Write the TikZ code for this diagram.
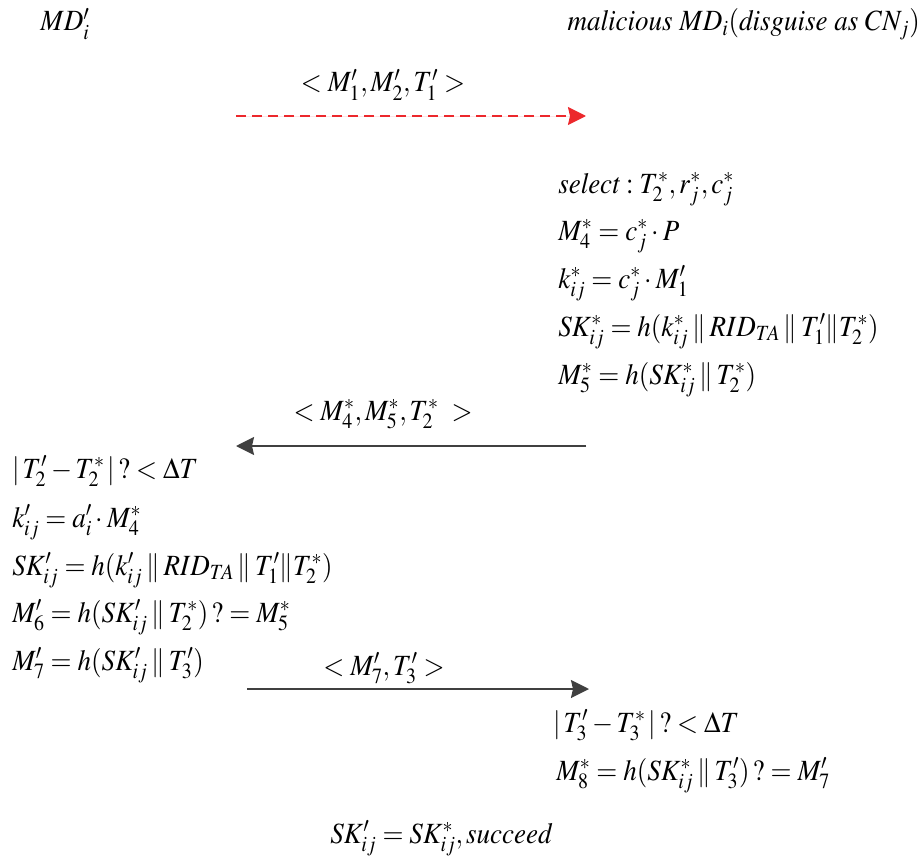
\documentclass[tikz,border=0pt]{standalone}
\usepackage{mathptmx}
\usepackage{fontspec}
\setmainfont{Liberation Serif}
\usepackage{tikz}
\usetikzlibrary{arrows.meta,positioning}
\definecolor{attackC}{RGB}{236,40,44}
\definecolor{msgC}{RGB}{64,64,64}
\newcommand{\eqn}[1]{\scalebox{0.92}[1]{$#1$}}
\newcommand{\cat}{\mathbin{\|}}

\begin{document}
\begin{tikzpicture}[
  x=0.75pt,y=-0.75pt,
  txt/.style={anchor=base west,inner sep=0pt,font=\fontsize{22}{26}\selectfont},
  lbl/.style={anchor=base,inner sep=0pt,font=\fontsize{22}{26}\selectfont},
  msg/.style={-{Stealth[length=13.5pt,width=13.5pt,inset=1.5pt]},line width=1.5pt,draw=msgC,fill=msgC},
  fake/.style={msg,draw=attackC,fill=attackC,dash pattern=on 7.5pt off 4.5pt}
]
  \useasboundingbox (0,0) rectangle (924,856);

  % Participants
  \node[txt] (md) at (40,31) {\eqn{MD'_i}};
  \node[txt,anchor=base east] (mal) at (920,31)
    {\eqn{\mathit{malicious}\ MD_i(\mathit{disguise\ as}\ CN_j)}};

  % Message 1 (replayed)
  \node[lbl] (m1) at (383,92) {\eqn{<M'_1,M'_2,T'_1>}};
  \coordinate (m1s) at (236,116);
  \coordinate (m1e) at (586,116);
  \draw[fake] (m1s) -- (m1e);

  % Attacker side computations
  \node[txt] (r1) at (558,193) {\eqn{\mathit{select}:T_2^*,r_j^*,c_j^*}};
  \node[txt] (r2) at (558,240) {\eqn{M_4^*=c_j^*\cdot P}};
  \node[txt] (r3) at (558,288) {\eqn{k_{ij}^*=c_j^*\cdot M'_1}};
  \node[txt] (r4) at (558,336) {\eqn{SK_{ij}^*=h(k_{ij}^*\cat RID_{T\!A}\cat T'_1\|T_2^*)}};
  \node[txt] (r5) at (558,384) {\eqn{M_5^*=h(SK_{ij}^*\cat T_2^*)}};

  % Message 2
  \node[lbl] (m2) at (383,420) {\eqn{<M_4^*,M_5^*,T_2^*\ >}};
  \coordinate (m2s) at (586,446);
  \coordinate (m2e) at (236,446);
  \draw[msg] (m2s) -- (m2e);

  % Device side checks
  \node[txt] (l1) at (12,478) {\eqn{|\,T'_2-T_2^*\,|\,?<\Delta T}};
  \node[txt] (l2) at (12,527) {\eqn{k'_{ij}=a'_i\cdot M_4^*}};
  \node[txt] (l3) at (12,575) {\eqn{SK'_{ij}=h(k'_{ij}\cat RID_{T\!A}\cat T'_1\|T_2^*)}};
  \node[txt] (l4) at (12,622) {\eqn{M'_6=h(SK'_{ij}\cat T_2^*)\,?=M_5^*}};
  \node[txt] (l5) at (12,670) {\eqn{M'_7=h(SK'_{ij}\cat T'_3)}};

  % Message 3
  \node[lbl] (m3) at (384,675) {\eqn{<M'_7,T'_3>}};
  \coordinate (m3s) at (247,689);
  \coordinate (m3e) at (589,689);
  \draw[msg] (m3s) -- (m3e);

  % Attacker side checks
  \node[txt] (r6) at (553,732) {\eqn{|\,T'_3-T_3^*\,|\,?<\Delta T}};
  \node[txt] (r7) at (556,780) {\eqn{M_8^*=h(SK_{ij}^*\cat T'_3)\,?=M'_7}};

  % Result
  \node[txt] (res) at (330,843) {\eqn{SK'_{ij}=SK_{ij}^*,\mathit{succeed}}};
\end{tikzpicture}
\end{document}
